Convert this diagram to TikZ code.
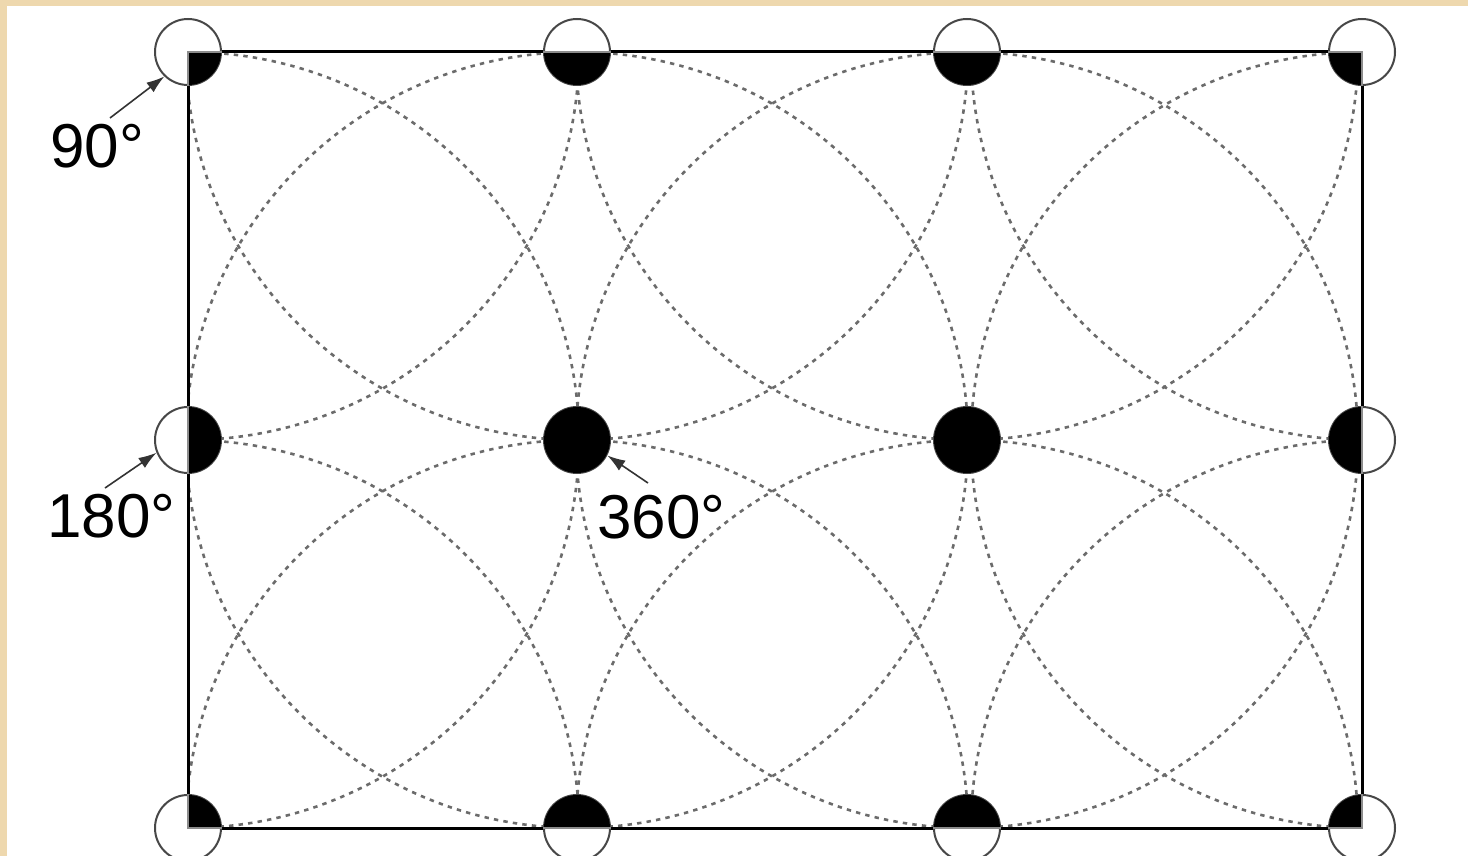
\documentclass[tikz,border=0pt]{standalone}
\usepackage{fontspec}
\setmainfont{Liberation Sans}
\usetikzlibrary{arrows.meta}
\definecolor{paper}{RGB}{238,216,174}
\begin{document}
\begin{tikzpicture}[x=0.5pt,y=-0.5pt,
  dot/.style={circle, minimum size=33pt, inner sep=0pt, draw=black!72, line width=1pt, fill=white},
  arcline/.style={draw=black!58, line width=1.3pt, dash pattern=on 2.2pt off 2.6pt},
  frame/.style={draw=black, line width=1.5pt},
  lab/.style={font=\fontsize{31}{31}\selectfont, anchor=base west, inner sep=0pt},
  arr/.style={-{Latex[length=9pt,width=6pt]}, line width=0.8pt, draw=black!80}]
\useasboundingbox (0,0) rectangle (1468,856);
% background
\fill[paper] (0,0) rectangle (1468,856);
\fill[white] (7,6) rectangle (1468,856);
% dashed big arcs
\begin{scope}
  \clip (188,52) rectangle (1362,828);
  \foreach \x in {188,577,967,1362}
    \foreach \y in {52,440,828}
      \draw[arcline] (\x,\y) ellipse [x radius=391, y radius=388];
\end{scope}
% frame
\draw[frame] (188,52) rectangle (1362,828);
% small circles
\foreach \i/\x in {0/188,1/577,2/967,3/1362}
  \foreach \j/\y in {0/52,1/440,2/828}
    \node[dot] (c\i\j) at (\x,\y) {};
% black parts inside the frame
\begin{scope}
  \clip (188,52) rectangle (1362,828);
  \foreach \x in {188,577,967,1362}
    \foreach \y in {52,440,828}
      \fill[black] (\x,\y) circle [radius=33];
\end{scope}
% gray border inside circles
\begin{scope}
  \clip (188,52) circle[radius=34] (577,52) circle[radius=34] (967,52) circle[radius=34] (1362,52) circle[radius=34]
        (188,440) circle[radius=34] (1362,440) circle[radius=34]
        (188,828) circle[radius=34] (577,828) circle[radius=34] (967,828) circle[radius=34] (1362,828) circle[radius=34];
  \draw[black!45, line width=1pt] (188,52) rectangle (1362,828);
\end{scope}
% labels
\node[lab] (l90) at (50,168) {90°};
\node[lab] (l180) at (47,537) {180°};
\node[lab] (l360) at (597,538) {360°};
\coordinate (a90) at (110,118);
\coordinate (a180) at (105,488);
\coordinate (a360) at (648,483);
\draw[arr] (a90) -- (c00.226);
\draw[arr] (a180) -- (c01.202);
\draw[arr] (a360) -- (c11.333);
\end{tikzpicture}
\end{document}
